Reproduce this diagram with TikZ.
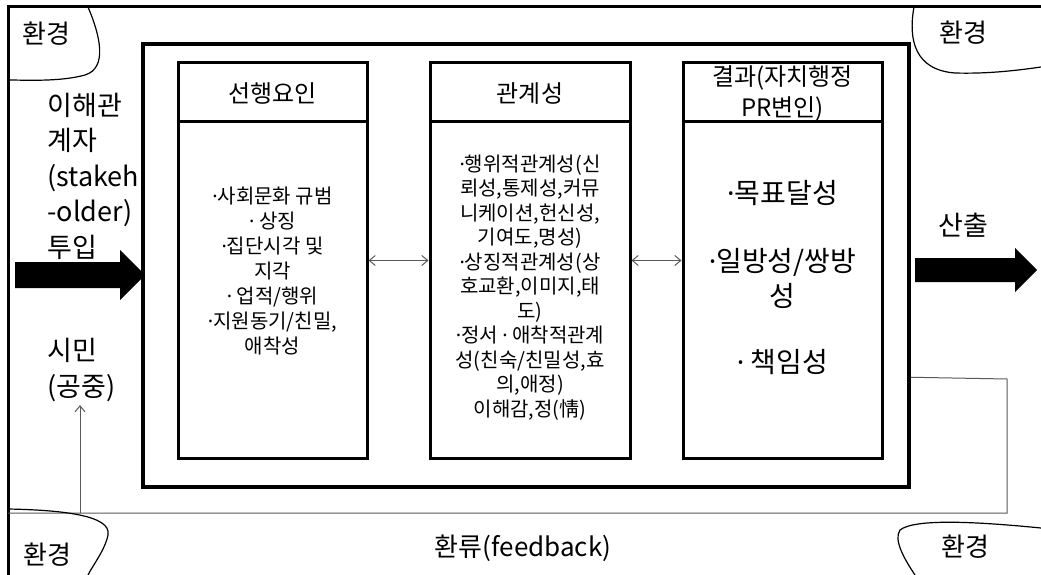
\documentclass[tikz,border=0pt]{standalone}
\usepackage{fontspec}
\setmainfont{Noto Sans CJK KR}
\newfontfamily\latinfont{Noto Sans}
\newcommand{\mdt}{{\latinfont ·}}
\usetikzlibrary{calc, arrows, positioning}
\usetikzlibrary{arrows.meta}

\begin{document}
\begin{tikzpicture}[x=1pt,y=-1pt,
    colBox/.style={draw, line width=3pt, minimum height=395pt, inner sep=0pt},
    headTxt/.style={font=\fontsize{24}{31}\selectfont, align=center},
    bodyTxt/.style={font=\fontsize{20}{24.5}\selectfont, align=center},
    bigTxt/.style={font=\fontsize{27}{35.5}\selectfont, align=left},
    envTxt/.style={font=\fontsize{26}{30}\selectfont},
    thinLn/.style={draw=black!65, line width=1pt},
    >={Straight Barb[length=6pt,width=10pt]}]

\useasboundingbox (0,0) rectangle (1041,575);

% outer frame, cut by the page
\draw[line width=3pt] (8,575) -- (8,7) -- (1041,7);

\node[draw, line width=3.5pt, minimum width=766pt, minimum height=443pt] (nFrame) at (526,265.5) {};

\foreach \v/\x/\w in
{nColA/272.5/189,
    nColB/530/200,
    nColC/782.5/199
}
{
    \node[colBox, minimum width=\w pt] (\v) at (\x,260.5) {};
    \draw[line width=3pt] ($(\v.north west)+(0,60)$) -- ($(\v.north east)+(0,60)$);
};

\node[headTxt] (nHeadA) at ($(nColA.north)+(0,32)$) {선행요인};
\node[headTxt] (nHeadB) at ($(nColB.north)+(0,32)$) {관계성};
\node[headTxt] (nHeadC) at ($(nColC.north)+(0,32)$) {결과(자치행정\\PR변인)};

\node[bodyTxt, font=\fontsize{20}{25}\selectfont] (nBodyA) at ($(nColA.center)+(0,11)$)
    {\mdt 사회문화 규범\\\mdt{} 상징\\\mdt 집단시각 및\\지각\\\mdt{} 업적/행위\\\mdt 지원동기/친밀,\\애착성};
\node[bodyTxt] (nBodyB) at ($(nColB.center)+(0,27)$)
    {\mdt 행위적관계성(신\\뢰성,통제성,커뮤\\니케이션,헌신성,\\기여도,명성)\\\mdt 상징적관계성(상\\호교환,이미지,태\\도)\\\mdt 정서 \mdt{} 애착적관계\\성(친숙/친밀성,효\\의,애정)\\이해감,정(情)};
\node[bodyTxt, font=\fontsize{28}{35}\selectfont] (nBodyC) at ($(nColC.center)+(0,17)$)
    {\mdt 목표달성\\[33pt]\mdt 일방성/쌍방\\성\\[31pt]\mdt{} 책임성};

\draw[thinLn, <->] (nColA.east) -- (nColB.west);
\draw[thinLn, <->] (nColB.east) -- (nColC.west);

% input and output
\node[bigTxt, anchor=west] (nStake) at (44,176) {이해관\\계자\\(stakeh\\-older)\\투입};
\node[bigTxt, anchor=west] (nCitizen) at (44,370) {시민\\(공중)};
\node[bigTxt] (nOutput) at (963,225) {산출};

\fill (15,262) -- (120,262) -- (120,250) -- (145,275) -- (120,300) -- (120,288) -- (15,288) -- cycle;
\fill (915,258) -- (1015,258) -- (1015,248) -- (1037,270) -- (1015,292) -- (1015,282) -- (915,282) -- cycle;

% feedback
\coordinate (cFbStartPt) at ($(nFrame.north east)+(0,335)$);
\coordinate (cFbCornerPt) at (1007,379);
\coordinate (cFbLowPt) at (1007,513);
\coordinate (cFbEndPt) at (8,513);
\coordinate (cFbArrowPt) at (80,513);
\draw[thinLn] (cFbStartPt) -- (cFbCornerPt) -- (cFbLowPt) -- (cFbEndPt);
\draw[thinLn, ->] (cFbArrowPt) -- (cFbArrowPt |- nCitizen.south);
\node[envTxt] (nFeedback) at (523,548) {환류(feedback)};

% environment
\draw[line width=1.2pt] (88,7) .. controls (100,35) and (108,68) .. (85,75) .. controls (60,82) and (25,80) .. (8,80);
\draw[line width=1.2pt] (914,7) .. controls (908,40) and (915,70) .. (955,73) .. controls (990,74) and (1020,70) .. (1041,67);
\draw[line width=1.2pt] (8,509) .. controls (60,510) and (112,515) .. (108,535) .. controls (105,550) and (93,565) .. (88,575);
\draw[line width=1.2pt] (1041,528) .. controls (980,522) and (915,518) .. (900,530) .. controls (893,540) and (905,560) .. (915,575);

\foreach \n/\x/\y in
{nEnvA/46/34,
    nEnvB/963/33,
    nEnvC/47/555,
    nEnvD/965/547
}
{
    \node[envTxt] (\n) at (\x,\y) {환경};
};

\end{tikzpicture}
\end{document}
